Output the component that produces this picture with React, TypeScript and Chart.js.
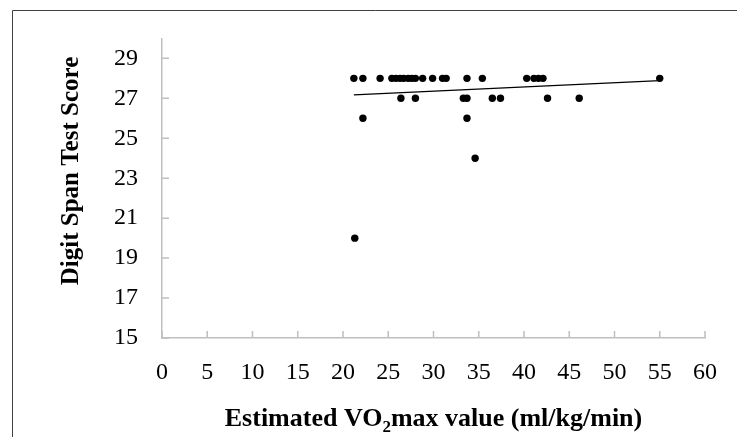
import React, { useEffect, useRef } from "react";
import { Chart, registerables } from "chart.js";

Chart.register(...registerables);

// Estimated VO2max (ml/kg/min) of each participant
const vo2max = [
  21.2, 22.2, 24.1, 25.4, 25.85, 26.3, 26.7, 27.2, 27.6, 28.0, 28.8, 29.9, 31.0,
  31.4, 33.7, 35.4, 40.3, 41.1, 41.6, 42.1, 55.0,
  26.4, 28.0, 33.3, 33.7, 36.5, 37.4, 42.6, 46.1,
  22.2, 33.7,
  34.6,
  21.3,
];
// Digit Span Test Score of each participant (same order)
const digitSpan = [
  28, 28, 28, 28, 28, 28, 28, 28, 28, 28, 28, 28, 28,
  28, 28, 28, 28, 28, 28, 28, 28,
  27, 27, 27, 27, 27, 27, 27, 27,
  26, 26,
  24,
  20,
];
// Linear trendline end points
const trendX = [21.2, 55.0];
const trendY = [27.17, 27.89];

const xTickValues = [0, 5, 10, 15, 20, 25, 30, 35, 40, 45, 50, 55, 60];
const yTickValues = [15, 17, 19, 21, 23, 25, 27, 29];

const xTitleParts = ["Estimated VO", "2", "max value (ml/kg/min)"];
const yTitle = "Digit Span Test Score";

const FONT = '"Liberation Serif", "Times New Roman", serif';
const X_TITLE_SIZE = 26;
const Y_TITLE_SIZE = 25;
const TICK_SIZE = 24;

const decorPlugin = {
  id: "decor",
  beforeDraw(chart: any) {
    const ctx = chart.ctx;
    ctx.save();
    ctx.strokeStyle = "#404040";
    ctx.lineWidth = 1;
    ctx.beginPath();
    ctx.moveTo(12.5, 440);
    ctx.lineTo(12.5, 10.5);
    ctx.lineTo(740, 10.5);
    ctx.stroke();
    ctx.restore();
  },
  afterDraw(chart: any) {
    const ctx = chart.ctx;
    const area = chart.chartArea;
    const xs = chart.scales.x;
    const ys = chart.scales.y;
    ctx.save();
    ctx.strokeStyle = "#bfbfbf";
    ctx.lineWidth = 1.5;
    ctx.beginPath();
    xs.ticks.forEach((t: any) => {
      const px = xs.getPixelForValue(t.value);
      ctx.moveTo(px, area.bottom);
      ctx.lineTo(px, area.bottom - 7);
    });
    ys.ticks.forEach((t: any) => {
      const py = ys.getPixelForValue(t.value);
      ctx.moveTo(area.left, py);
      ctx.lineTo(area.left + 7, py);
    });
    ctx.stroke();

    ctx.fillStyle = "#000";
    // y-axis title
    ctx.save();
    ctx.font = `bold ${Y_TITLE_SIZE}px ${FONT}`;
    ctx.textAlign = "center";
    ctx.textBaseline = "middle";
    ctx.translate(72, 171);
    ctx.rotate(-Math.PI / 2);
    ctx.fillText(yTitle, 0, 0);
    ctx.restore();

    // x-axis title with subscript
    const big = `bold ${X_TITLE_SIZE}px ${FONT}`;
    const small = `bold ${Math.round(X_TITLE_SIZE * 0.66)}px ${FONT}`;
    ctx.textBaseline = "alphabetic";
    ctx.textAlign = "left";
    ctx.font = big;
    const w0 = ctx.measureText(xTitleParts[0]).width;
    const w2 = ctx.measureText(xTitleParts[2]).width;
    ctx.font = small;
    const w1 = ctx.measureText(xTitleParts[1]).width;
    const total = w0 + w1 + w2;
    const cx = (area.left + area.right) / 2;
    const baseY = 426;
    let x = cx - total / 2;
    ctx.font = big;
    ctx.fillText(xTitleParts[0], x, baseY);
    x += w0;
    ctx.font = small;
    ctx.fillText(xTitleParts[1], x, baseY + 6);
    x += w1;
    ctx.font = big;
    ctx.fillText(xTitleParts[2], x, baseY);
    ctx.restore();
  },
};

export default function App() {
  const ref = useRef<HTMLCanvasElement | null>(null);

  useEffect(() => {
    document.body.style.margin = "0";
    const canvas = ref.current;
    if (!canvas) return;
    const points = vo2max.map((v, i) => ({ x: v, y: digitSpan[i] }));
    const trend = trendX.map((v, i) => ({ x: v, y: trendY[i] }));
    const chart = new Chart(canvas, {
      type: "scatter",
      data: {
        datasets: [
          {
            type: "line",
            data: trend,
            borderColor: "#000",
            borderWidth: 1.3,
            pointRadius: 0,
            fill: false,
            order: 2,
          } as any,
          {
            data: points,
            backgroundColor: "#000",
            borderColor: "#000",
            pointRadius: 3.7,
            pointBorderWidth: 0,
            order: 1,
          },
        ],
      },
      options: {
        animation: false,
        responsive: false,
        maintainAspectRatio: false,
        events: [],
        layout: { padding: { left: 0, right: 25, top: 30, bottom: 0 } },
        plugins: {
          legend: { display: false },
          tooltip: { enabled: false },
          title: { display: false },
        },
        scales: {
          x: {
            type: "linear",
            min: 0,
            max: 60,
            afterBuildTicks: (s: any) => {
              s.ticks = xTickValues.map((v) => ({ value: v }));
            },
            afterFit: (s: any) => {
              s.height = 99;
            },
            grid: { display: true, drawOnChartArea: false, drawTicks: false },
            border: { display: true, color: "#bfbfbf", width: 1.5 },
            ticks: {
              color: "#000",
              padding: 20,
              maxRotation: 0,
              autoSkip: false,
              font: { family: FONT, size: TICK_SIZE },
            },
          },
          y: {
            type: "linear",
            min: 15,
            max: 30,
            afterBuildTicks: (s: any) => {
              s.ticks = yTickValues.map((v) => ({ value: v }));
            },
            afterFit: (s: any) => {
              s.width = 162;
            },
            grid: { display: true, drawOnChartArea: false, drawTicks: false },
            border: { display: true, color: "#bfbfbf", width: 1.5 },
            ticks: {
              color: "#000",
              padding: 24,
              autoSkip: false,
              font: { family: FONT, size: TICK_SIZE },
            },
          },
        },
      },
      plugins: [decorPlugin],
    });
    return () => chart.destroy();
  }, []);

  return (
    <div style={{ width: 737, height: 437 }}>
      <canvas ref={ref} width={737} height={437} style={{ display: "block" }} />
    </div>
  );
}
